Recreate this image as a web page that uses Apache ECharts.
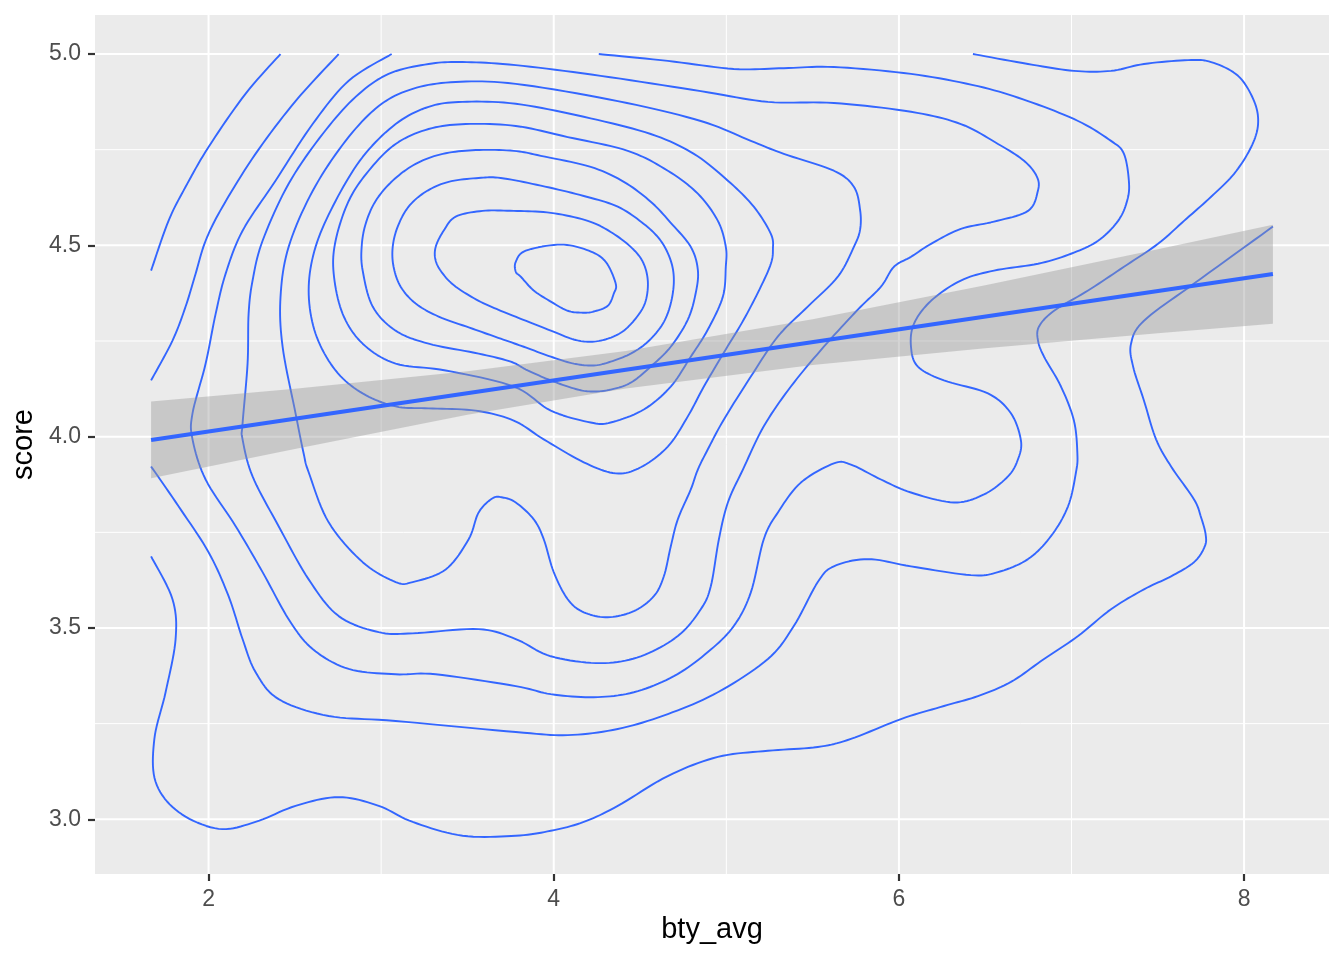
<!DOCTYPE html>
<html><head><meta charset="utf-8">
<script src="https://cdn.jsdelivr.net/npm/echarts@6/dist/echarts.min.js"></script>
<style>html,body{margin:0;padding:0;background:#fff}#c{width:1344px;height:960px}</style>
</head><body><div id="c"></div>
<script>
// ---- axis ticks ----
const xTicks = [2, 4, 6, 8];
const xTickLabels = ['2', '4', '6', '8'];
const xMinor = [3, 5, 7];
const yTicks = [3, 3.5, 4, 4.5, 5];
const yTickLabels = ['3.0', '3.5', '4.0', '4.5', '5.0'];
const yMinor = [3.25, 3.75, 4.25, 4.75];

// ---- density contour paths (bty_avg, score) ----
const contour1 = [[3.780,4.457],[3.838,4.486],[4.041,4.502],[4.203,4.486],[4.301,4.457],[4.359,4.400],[4.348,4.374],[4.313,4.342],[4.232,4.327],[4.168,4.324],[4.081,4.329],[3.983,4.353],[3.884,4.382],[3.809,4.418],[3.780,4.431],[3.780,4.457]];
const contour2 = [[3.316,4.496],[3.362,4.538],[3.432,4.575],[3.588,4.590],[3.768,4.590],[3.983,4.585],[4.197,4.564],[4.330,4.535],[4.446,4.496],[4.516,4.457],[4.545,4.408],[4.533,4.355],[4.487,4.316],[4.406,4.277],[4.313,4.256],[4.214,4.248],[4.116,4.254],[3.983,4.277],[3.809,4.308],[3.693,4.329],[3.565,4.355],[3.432,4.392],[3.357,4.426],[3.316,4.460],[3.316,4.496]];
const contour3 = [[3.067,4.496],[3.096,4.549],[3.159,4.601],[3.258,4.640],[3.391,4.666],[3.565,4.676],[3.693,4.676],[3.925,4.656],[4.174,4.629],[4.371,4.601],[4.522,4.556],[4.620,4.512],[4.678,4.460],[4.696,4.408],[4.678,4.348],[4.632,4.295],[4.545,4.248],[4.446,4.217],[4.330,4.196],[4.232,4.186],[4.116,4.191],[3.983,4.209],[3.826,4.235],[3.693,4.256],[3.530,4.282],[3.333,4.314],[3.200,4.348],[3.113,4.392],[3.072,4.444],[3.067,4.496]];
const contour4 = [[2.887,4.496],[2.910,4.556],[2.968,4.616],[3.067,4.669],[3.200,4.713],[3.357,4.739],[3.548,4.749],[3.768,4.747],[3.925,4.734],[4.214,4.705],[4.406,4.666],[4.562,4.614],[4.678,4.559],[4.794,4.496],[4.835,4.436],[4.823,4.376],[4.777,4.306],[4.678,4.235],[4.562,4.183],[4.446,4.141],[4.330,4.123],[4.214,4.118],[4.116,4.126],[3.983,4.147],[3.849,4.173],[3.751,4.196],[3.565,4.217],[3.275,4.243],[3.084,4.277],[2.951,4.340],[2.893,4.434],[2.887,4.496]];
const contour5 = [[2.725,4.426],[2.736,4.512],[2.812,4.616],[2.928,4.695],[3.084,4.765],[3.275,4.804],[3.490,4.817],[3.780,4.812],[4.081,4.783],[4.429,4.747],[4.661,4.695],[4.835,4.635],[4.951,4.564],[4.997,4.496],[4.997,4.444],[4.980,4.366],[4.893,4.280],[4.794,4.209],[4.678,4.131],[4.522,4.071],[4.330,4.037],[4.214,4.037],[3.983,4.068],[3.768,4.131],[3.374,4.173],[3.084,4.191],[2.893,4.243],[2.777,4.321],[2.725,4.426]];
const contour6 = [[2.580,4.382],[2.620,4.496],[2.736,4.616],[2.893,4.731],[3.084,4.817],[3.275,4.862],[3.472,4.875],[3.780,4.870],[4.174,4.836],[4.562,4.791],[4.812,4.739],[5.009,4.669],[5.159,4.601],[5.258,4.530],[5.270,4.489],[5.258,4.452],[5.200,4.392],[5.101,4.306],[4.986,4.220],[4.870,4.131],[4.777,4.053],[4.661,3.974],[4.504,3.920],[4.359,3.904],[4.174,3.933],[3.942,3.993],[3.768,4.042],[3.548,4.068],[3.275,4.074],[3.084,4.079],[2.893,4.113],[2.736,4.173],[2.620,4.269],[2.580,4.382]];
const contour7 = [[2.417,4.366],[2.464,4.496],[2.603,4.642],[2.794,4.773],[2.986,4.864],[3.183,4.909],[3.432,4.927],[3.780,4.922],[4.371,4.877],[4.852,4.825],[5.142,4.773],[5.333,4.739],[5.623,4.695],[5.739,4.653],[5.775,4.593],[5.775,4.541],[5.739,4.496],[5.646,4.418],[5.472,4.340],[5.299,4.262],[5.142,4.157],[4.986,4.045],[4.893,3.967],[4.835,3.914],[4.794,3.862],[4.719,3.784],[4.678,3.713],[4.638,3.635],[4.580,3.583],[4.464,3.544],[4.313,3.528],[4.174,3.541],[4.081,3.575],[4.000,3.646],[3.942,3.732],[3.884,3.784],[3.780,3.828],[3.704,3.841],[3.646,3.839],[3.565,3.802],[3.507,3.732],[3.374,3.653],[3.183,3.620],[3.084,3.620],[2.893,3.672],[2.696,3.776],[2.580,3.907],[2.551,3.956],[2.504,4.061],[2.429,4.235],[2.417,4.366]];
const contour8 = [[2.255,4.408],[2.313,4.512],[2.464,4.661],[2.661,4.791],[2.852,4.888],[3.043,4.948],[3.275,4.974],[3.472,4.979],[3.780,4.971],[4.272,4.943],[4.852,4.903],[5.241,4.875],[5.623,4.872],[6.070,4.849],[6.359,4.817],[6.574,4.765],[6.725,4.721],[6.800,4.679],[6.805,4.642],[6.748,4.590],[6.551,4.562],[6.359,4.543],[6.186,4.504],[6.070,4.470],[5.971,4.444],[5.896,4.392],[5.762,4.332],[5.565,4.235],[5.374,4.131],[5.217,4.027],[5.096,3.914],[5.009,3.828],[4.957,3.732],[4.910,3.609],[4.852,3.549],[4.719,3.479],[4.504,3.426],[4.272,3.408],[3.983,3.426],[3.780,3.471],[3.565,3.497],[3.183,3.486],[2.986,3.489],[2.754,3.531],[2.580,3.627],[2.406,3.766],[2.255,3.896],[2.197,3.993],[2.197,4.034],[2.226,4.191],[2.232,4.321],[2.255,4.408]];
const contour9 = [[3.061,5.000],[2.812,4.930],[2.603,4.817],[2.388,4.669],[2.197,4.538],[2.099,4.426],[2.041,4.321],[1.983,4.191],[1.907,4.061],[1.907,3.993],[1.983,3.888],[2.157,3.766],[2.313,3.646],[2.464,3.523],[2.603,3.445],[2.812,3.393],[3.084,3.379],[3.316,3.379],[3.780,3.348],[3.983,3.327],[4.232,3.319],[4.464,3.332],[4.696,3.374],[4.893,3.437],[5.043,3.505],[5.142,3.593],[5.217,3.732],[5.299,3.802],[5.432,3.880],[5.623,3.930],[5.722,3.927],[5.896,3.888],[6.070,3.854],[6.319,3.828],[6.493,3.849],[6.632,3.896],[6.690,3.941],[6.707,3.990],[6.649,4.061],[6.516,4.113],[6.261,4.147],[6.110,4.183],[6.070,4.235],[6.087,4.295],[6.186,4.355],[6.359,4.408],[6.551,4.434],[6.806,4.452],[6.997,4.478],[7.154,4.512],[7.270,4.564],[7.322,4.616],[7.333,4.665],[7.304,4.739],[7.229,4.773],[7.038,4.825],[6.748,4.877],[6.458,4.916],[6.070,4.948],[5.623,4.966],[5.333,4.963],[5.043,4.961],[4.661,4.982],[4.261,5.000]];
const contour10 = [[2.754,5.000],[2.504,4.877],[2.272,4.739],[2.081,4.601],[1.983,4.512],[1.925,4.426],[1.867,4.340],[1.791,4.251],[1.667,4.147]];
const contour11 = [[1.667,3.922],[1.826,3.818],[2.000,3.698],[2.116,3.583],[2.197,3.471],[2.272,3.385],[2.406,3.314],[2.696,3.270],[3.084,3.257],[3.780,3.228],[4.081,3.220],[4.371,3.236],[4.661,3.275],[4.951,3.332],[5.241,3.419],[5.391,3.505],[5.530,3.620],[5.623,3.661],[5.820,3.680],[6.070,3.661],[6.417,3.638],[6.574,3.646],[6.748,3.680],[6.881,3.740],[6.980,3.818],[7.026,3.907],[7.034,3.956],[7.014,4.042],[6.939,4.131],[6.841,4.209],[6.806,4.251],[6.812,4.288],[6.899,4.329],[7.096,4.382],[7.304,4.444],[7.501,4.504],[7.652,4.564],[7.809,4.627],[7.942,4.687],[8.041,4.757],[8.081,4.817],[8.058,4.877],[7.965,4.943],[7.809,4.979],[7.675,4.984],[7.420,4.974],[7.229,4.956],[7.014,4.956],[6.748,4.974],[6.429,5.000]];
const contour12 = [[2.417,5.000],[2.214,4.896],[2.000,4.757],[1.867,4.653],[1.768,4.564],[1.667,4.434]];
const contour13 = [[1.667,3.687],[1.791,3.575],[1.809,3.471],[1.751,3.332],[1.686,3.210],[1.693,3.098],[1.826,3.019],[2.058,2.975],[2.272,2.993],[2.504,3.035],[2.754,3.058],[2.986,3.035],[3.183,2.993],[3.472,2.957],[3.780,2.957],[3.983,2.970],[4.174,2.993],[4.371,3.035],[4.661,3.113],[4.951,3.163],[5.241,3.179],[5.530,3.189],[5.722,3.210],[6.012,3.262],[6.261,3.296],[6.458,3.322],[6.649,3.359],[6.841,3.419],[7.038,3.479],[7.229,3.549],[7.420,3.601],[7.577,3.635],[7.710,3.672],[7.772,3.713],[7.777,3.745],[7.750,3.790],[7.710,3.836],[7.577,3.922],[7.490,3.993],[7.420,4.094],[7.357,4.183],[7.345,4.243],[7.420,4.303],[7.710,4.400],[8.167,4.549]];

// ---- linear fit and its confidence band ----
const regX = [1.667, 8.167];
const regY = [3.991, 4.425];
const bandX = [1.667, 2.5, 3.5, 4.418, 5.5, 6.5, 7.5, 8.167];
const bandUpper = [4.092, 4.125, 4.171, 4.224, 4.307, 4.396, 4.490, 4.554];
const bandLower = [3.891, 3.968, 4.057, 4.126, 4.187, 4.231, 4.270, 4.295];

const contours = [contour1, contour2, contour3, contour4, contour5, contour6, contour7,
                  contour8, contour9, contour10, contour11, contour12, contour13];

const FONT = '"Liberation Sans", Arial, Helvetica, sans-serif';
const BLUE = '#3366FF';
function lookup(ticks, labels, v) {
  const i = ticks.findIndex(t => Math.abs(t - v) < 1e-9);
  return i >= 0 ? labels[i] : '';
}

// Catmull-Rom interpolation between projected (pixel) points, for a smooth stroke
function splinePixels(p) {
  const n = p.length;
  const closed = n > 2 && Math.abs(p[0][0] - p[n-1][0]) < 0.01 && Math.abs(p[0][1] - p[n-1][1]) < 0.01;
  const out = [p[0]];
  const steps = 10;
  for (let i = 0; i < n - 1; i++) {
    const p0 = i > 0 ? p[i-1] : (closed ? p[n-2] : p[0]);
    const p1 = p[i], p2 = p[i+1];
    const p3 = i + 2 < n ? p[i+2] : (closed ? p[1] : p[n-1]);
    for (let s = 1; s <= steps; s++) {
      const t = s / steps, t2 = t * t, t3 = t2 * t;
      const f = k => 0.5 * ((2 * p1[k]) + (-p0[k] + p2[k]) * t +
                (2 * p0[k] - 5 * p1[k] + 4 * p2[k] - p3[k]) * t2 +
                (-p0[k] + 3 * p1[k] - 3 * p2[k] + p3[k]) * t3);
      out.push([f(0), f(1)]);
    }
  }
  return out;
}

const chart = echarts.init(document.getElementById('c'), null, {renderer: 'canvas'});

const gridSeries = {
  type: 'custom', z: 1, silent: true, data: [0], clip: true,
  renderItem: function (params, api) {
    const cs = params.coordSys;
    const kids = [];
    const vline = (v, w) => {
      const x = api.coord([v, 4])[0];
      kids.push({type: 'line', shape: {x1: x, y1: cs.y, x2: x, y2: cs.y + cs.height},
                 style: {stroke: '#FFFFFF', lineWidth: w}});
    };
    const hline = (v, w) => {
      const y = api.coord([4, v])[1];
      kids.push({type: 'line', shape: {x1: cs.x, y1: y, x2: cs.x + cs.width, y2: y},
                 style: {stroke: '#FFFFFF', lineWidth: w}});
    };
    xMinor.forEach(v => vline(v, 1));
    yMinor.forEach(v => hline(v, 1));
    xTicks.forEach(v => vline(v, 2));
    yTicks.forEach(v => hline(v, 2));
    return {type: 'group', children: kids};
  }
};

const contourSeries = {
  type: 'custom', z: 2, silent: true, clip: true,
  data: contours.map((c, i) => i),
  renderItem: function (params, api) {
    const c = contours[params.dataIndex];
    const pix = c.map(d => api.coord(d));
    return {type: 'polyline', shape: {points: splinePixels(pix)},
            style: {stroke: BLUE, fill: null, lineWidth: 1.9, lineJoin: 'round', lineCap: 'butt'}};
  }
};

const bandSeries = {
  type: 'custom', z: 3, silent: true, data: [0],
  renderItem: function (params, api) {
    const pts = [];
    for (let i = 0; i < bandX.length; i++) pts.push(api.coord([bandX[i], bandUpper[i]]));
    for (let i = bandX.length - 1; i >= 0; i--) pts.push(api.coord([bandX[i], bandLower[i]]));
    return {type: 'polygon', shape: {points: pts}, style: {fill: 'rgba(153,153,153,0.42)'}};
  }
};

const regSeries = {
  type: 'line', z: 4, silent: true, showSymbol: false, symbol: 'none',
  data: regX.map((x, i) => [x, regY[i]]),
  lineStyle: {color: BLUE, width: 4}
};

chart.setOption({
  animation: false,
  backgroundColor: '#FFFFFF',
  grid: {left: 95, right: 15, top: 15, bottom: 86, show: true,
         backgroundColor: '#EBEBEB', borderWidth: 0},
  xAxis: {
    type: 'value', min: 1.342, max: 8.492,
    name: 'bty_avg', nameLocation: 'middle', nameGap: 40,
    nameTextStyle: {fontFamily: FONT, fontSize: 29, color: '#000000'},
    axisLine: {show: false},
    axisTick: {show: true, customValues: xTicks, length: 7,
               lineStyle: {color: '#333333', width: 2.2}},
    axisLabel: {show: true, customValues: xTicks, margin: 14,
                formatter: v => lookup(xTicks, xTickLabels, v),
                fontFamily: FONT, fontSize: 23, color: '#4D4D4D'},
    splitLine: {show: false}
  },
  yAxis: {
    type: 'value', min: 2.857, max: 5.102,
    name: 'score', nameLocation: 'middle', nameGap: 53,
    nameTextStyle: {fontFamily: FONT, fontSize: 29, color: '#000000'},
    axisLine: {show: false},
    axisTick: {show: true, customValues: yTicks, length: 7,
               lineStyle: {color: '#333333', width: 2.2}},
    axisLabel: {show: true, customValues: yTicks, margin: 14,
                formatter: v => lookup(yTicks, yTickLabels, v),
                fontFamily: FONT, fontSize: 23, color: '#4D4D4D'},
    splitLine: {show: false}
  },
  series: [gridSeries, contourSeries, bandSeries, regSeries]
});
</script>
</body></html>
